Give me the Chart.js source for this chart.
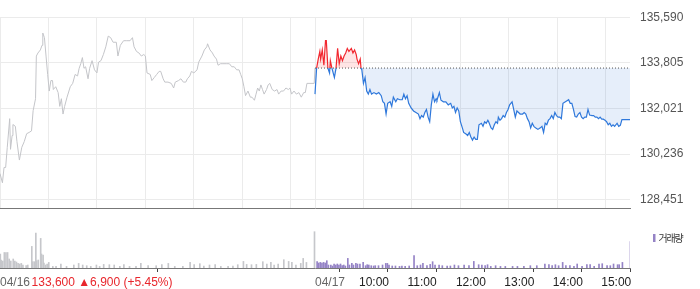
<!DOCTYPE html>
<html>
<head>
<meta charset="utf-8">
<script src="https://cdn.jsdelivr.net/npm/chart.js@4.4.1/dist/chart.umd.min.js"></script>
<style>
  html, body { margin: 0; padding: 0; background: #fff; }
  #wrap { position: relative; width: 700px; height: 289px; overflow: hidden; }
  canvas { position: absolute; left: 0; display: block; }
</style>
</head>
<body>
<div id="wrap">
  <canvas id="price" width="700" height="226" style="top:0"></canvas>
  <canvas id="vol" width="700" height="63" style="top:226px"></canvas>
</div>
<script>
// ---------- DATA ----------
// minutes counted from 04/16 09:00 (each session 09:00-15:30 = 390 min)
const dayClose = 133600;        // 04/16 close (baseline for 04/17)
const dayChange = 6900;
const dayChangePct = 5.45;

const yTickValues = [135590, 133805, 132021, 130236, 128451];
const gridMinutes = [0, 60, 120, 180, 240, 300, 360, 390, 450, 510, 570, 630, 690, 750];
const xTickMinutes = [0, 390, 450, 510, 570, 630, 690, 750];
const xTickLabels = ['04/16', '04/17', '10:00', '11:00', '12:00', '13:00', '14:00', '15:00'];

const day1Minutes = [0,3,5,7,9,12,13,15,16,19,21,24,27,30,33,36,39,41,44,45,47,50,52,53,55,57,59,61,63,65,66,69,72,74,76,78,80,83,87,90,93,96,98,100,102,104,106,109,111,114,117,120,122,125,128,131,134,137,140,144,146,149,153,157,161,164,166,169,172,175,178,180,182,186,188,191,194,197,199,202,204,208,212,215,217,221,224,227,230,232,235,237,240,244,246,250,253,256,257,260,263,265,268,270,273,276,280,284,287,290,293,296,298,300,302,304,307,310,312,315,317,319,321,323,325,327,330,332,334,337,340,343,345,348,351,354,357,359,361,364,367,370,373,376,378,380,389,390];
const day1Prices = [129470,129110,129710,129710,130500,131620,130420,130960,131390,131320,130720,130000,130500,130720,131030,131080,131140,131930,132400,134070,134190,134310,134490,134970,134790,134070,133350,132700,133110,133110,132760,132870,132640,132100,132400,131800,132100,132460,132870,133000,133350,133290,133590,133770,134010,133590,133650,133180,133590,133890,133530,133410,133830,133890,134130,134430,134850,134790,134610,134610,134070,134490,134670,134670,134670,134790,134430,134250,134190,134070,134130,134070,133410,133350,133110,133230,133350,133470,133470,133180,133050,133050,133000,132820,133050,133110,133180,133050,133050,133180,133290,133470,133410,133530,133830,134070,134310,134430,134550,134310,134190,134070,133950,133710,133770,133770,133770,133770,133650,133650,133530,133530,133350,133180,132870,132520,132700,132460,132460,132340,132580,132820,132700,132940,132760,132580,132760,132940,133000,132760,132700,132760,132580,132700,132700,132820,132760,132820,132580,132700,132580,132640,132460,132640,132640,133000,133000,133600];

const day2Minutes = [390,392,394,396,397,399,401,403,404,406,408,409,411,414,416,418,420,422,424,426,428,430,432,435,437,439,441,442,444,446,447,448,450,452,454,456,458,460,463,466,469,472,474,476,478,480,483,485,487,490,492,495,498,500,502,504,506,509,512,515,518,520,522,524,526,528,530,532,534,536,538,540,541,544,546,549,552,555,558,560,562,564,566,568,570,573,574,577,579,581,583,585,587,589,591,593,596,598,600,602,604,605,608,610,612,614,616,617,619,621,623,625,627,629,631,634,636,638,640,642,644,647,649,651,653,655,657,659,661,663,666,669,671,673,675,677,679,681,683,685,687,689,691,693,695,697,700,702,704,706,708,710,712,714,716,718,720,722,724,726,728,730,733,735,737,739,741,743,745,747,749,751,753,755,757,759,761,764,766,768,770,774,780];
const day2Prices = [132580,133600,133950,134250,133950,134310,133710,134670,134670,133590,133410,133890,133590,133230,133590,134370,133770,134070,133890,134070,134190,134370,134250,134370,134190,134310,134130,133950,133770,133950,133590,133530,133000,133230,132700,132580,132760,132580,132640,132580,132640,132520,132280,132220,131800,132220,132280,132100,132460,132280,132400,132360,132360,132580,132400,132520,132220,132040,131920,131860,131800,131620,131740,131680,131860,131980,131680,131500,132160,132580,132280,132400,132340,132640,132340,132280,132280,132160,132220,132040,132100,131860,132040,131920,131500,131200,131080,131020,130960,131080,130900,130780,130900,130810,130810,131380,131440,131320,131500,131440,131560,131500,131260,131200,131380,131500,131440,131680,131560,131620,131740,131680,131860,131980,132160,132280,131980,131680,131920,131860,131800,131800,131860,131800,131620,131500,131260,131440,131320,131260,131200,131260,131320,131080,131440,131380,131560,131620,131740,131620,131860,131740,131680,131680,131620,132220,132280,132320,132360,132220,132220,131980,131700,131680,131800,131860,131680,131620,131680,131680,131980,131760,131740,131740,131680,131680,131620,131680,131600,131600,131560,131500,131380,131440,131320,131380,131320,131440,131320,131360,131580,131580,131580];

const vol1Minutes = [0,1,2,3,4,6,8,10,12,14,17,19,21,23,25,27,29,33,35,40,41,43,45,46,48,51,52,54,55,57,59,61,66,70,76,83,92,98,103,108,113,120,124,129,136,142,149,154,161,169,175,184,194,201,209,217,227,236,241,248,253,260,267,274,283,289,295,302,306,312,318,326,331,336,340,345,352,358,362,367,373,376,380,390];
const vol1Values = [9000,14000,8000,6000,7000,15500,15500,15500,9000,7000,9000,7000,6000,4700,4000,4600,3000,2300,3000,21600,6300,6300,35000,7300,8000,29600,14000,13000,5000,3000,4000,5600,1600,1600,4000,1600,3000,4600,3000,2300,1600,3000,1600,3600,3300,3000,1600,3300,1600,1600,4600,2300,2300,3300,4600,1600,1600,5600,3300,4300,2000,3000,3300,1600,1600,2000,3300,6600,3600,3300,3600,6300,4000,5600,3000,4000,8300,6600,5600,3000,4600,9600,5600,36300];

const vol2Minutes = [392,394,396,398,400,402,404,406,409,411,413,415,417,419,421,423,425,427,430,432,435,437,440,442,445,449,452,454,456,459,462,464,468,473,477,479,481,485,489,494,497,501,506,512,516,520,523,528,532,535,538,543,547,553,557,562,567,574,580,586,592,596,600,603,607,613,619,625,634,640,648,656,664,674,679,683,687,691,696,700,705,710,714,720,726,730,735,741,745,751,755,759,764,766,770,780];
const vol2Values = [6300,5000,5600,5000,5600,5000,7300,3000,3000,2000,4000,3000,4000,3000,4000,2300,3000,2000,9600,3000,4600,3000,4600,4000,4000,5600,2300,3300,3000,2300,2000,2300,2300,3000,4600,4600,3000,2000,2000,1600,2000,1600,2000,12300,2300,3000,4600,2300,3600,6300,3000,3000,2300,2000,2000,3000,2300,3000,2300,6600,3300,3000,2300,3300,1600,2300,1600,1600,1600,1600,1600,2300,2300,4000,3300,2300,3300,2300,5600,2300,2300,1600,4000,1600,3300,3300,1600,4000,4300,2300,2300,4000,3300,3300,5600,26300];

// ---------- HELPERS ----------
const pts = (xs, ys) => xs.map((x, i) => ({ x, y: ys[i] }));
const FONT = '"Liberation Sans", Arial, sans-serif';
const RED = '#f2272f', BLUE = '#2f78db';

function splitColor(ctx) {
  const chart = ctx.chart;
  const area = chart.chartArea;
  if (!area) return BLUE;
  const yb = chart.scales.y.getPixelForValue(dayClose);
  const f = Math.min(1, Math.max(0, (yb - area.top) / (area.bottom - area.top)));
  const g = chart.ctx.createLinearGradient(0, area.top, 0, area.bottom);
  g.addColorStop(0, RED); g.addColorStop(f, RED);
  g.addColorStop(f, BLUE); g.addColorStop(1, BLUE);
  return g;
}

// ---------- PRICE CHART ----------
new Chart(document.getElementById('price'), {
  type: 'line',
  data: {
    datasets: [
      { data: [{x: 390, y: dayClose}, {x: 780, y: dayClose}], borderColor: '#555', borderWidth: 1,
        borderDash: [1, 2], pointRadius: 0, fill: false, order: 0 },
      { data: pts(day2Minutes, day2Prices), borderColor: splitColor, borderWidth: 1.2, pointRadius: 0,
        tension: 0, order: 1,
        fill: { target: { value: dayClose }, above: 'rgba(255,70,70,0.14)', below: 'rgba(60,120,220,0.13)' } },
      { data: pts(day1Minutes, day1Prices), borderColor: '#c4c5c9', borderWidth: 1, pointRadius: 0,
        tension: 0, fill: false, order: 2 }
    ]
  },
  options: {
    responsive: false, animation: false, events: [],
    layout: { padding: { top: 16, left: 0, right: 0, bottom: 0 } },
    plugins: { legend: { display: false }, tooltip: { enabled: false } },
    scales: {
      x: {
        type: 'linear', min: 0, max: 780,
        afterBuildTicks: s => { s.ticks = gridMinutes.map(v => ({ value: v })); },
        afterFit: s => { s.height = 1; },
        ticks: { display: false },
        grid: { color: '#ebebeb', drawTicks: false },
        border: { display: true, color: '#777', width: 1 }
      },
      y: {
        position: 'right',
        min: 128451 - (135590 - 128451) / 199 * 10,
        max: 135590,
        afterBuildTicks: s => { s.ticks = yTickValues.map(v => ({ value: v })); },
        afterFit: s => { s.width = 70; },
        ticks: { padding: 10, color: '#555', font: { size: 12, family: FONT },
                 callback: v => v.toLocaleString('en-US') },
        grid: { color: '#ebebeb', drawTicks: false },
        border: { display: false }
      }
    }
  }
});

// ---------- VOLUME CHART ----------
const labelPlugin = {
  id: 'bottomLabels',
  afterDraw(chart) {
    const ctx = chart.ctx, xs = chart.scales.x, area = chart.chartArea;
    ctx.save();
    ctx.font = '12px ' + FONT;
    ctx.textBaseline = 'middle';
    ctx.textAlign = 'left';
    const ty = area.bottom + 15;
    xTickMinutes.forEach((m, i) => {
      const px = xs.getPixelForValue(m);
      const lab = xTickLabels[i];
      const isDate = lab.indexOf('/') >= 0;
      ctx.fillStyle = isDate ? '#666' : '#222';
      const x0 = isDate ? px : px - 4.5;
      ctx.fillText(lab, x0, ty);
      if (i === 0) {
        ctx.fillStyle = '#e8262c';
        const txt = dayClose.toLocaleString('en-US') + ' \u25B2' + dayChange.toLocaleString('en-US') +
                    ' (+' + dayChangePct.toFixed(2) + '%)';
        ctx.fillText(txt, x0 + ctx.measureText(lab).width + 1.5, ty);
      }
    });
    // legend
    ctx.fillStyle = '#9583c6';
    ctx.fillRect(area.right + 23, 8, 2.5, 8);
    ctx.fillStyle = '#333';
    ctx.font = '10px "Noto Sans CJK KR", sans-serif';
    try { ctx.letterSpacing = '-1.2px'; } catch (e) {}
    ctx.fillText('거래량', area.right + 28.5, 12);
    ctx.restore();
  }
};

new Chart(document.getElementById('vol'), {
  type: 'bar',
  data: {
    datasets: [
      { data: pts(vol1Minutes, vol1Values), backgroundColor: '#c6c7cb', barThickness: 1, borderWidth: 0 },
      { data: pts(vol2Minutes, vol2Values), backgroundColor: '#9583c6', barThickness: 1, borderWidth: 0 }
    ]
  },
  options: {
    responsive: false, animation: false, events: [],
    layout: { padding: { top: 0, left: 0, right: 70, bottom: 0 } },
    plugins: { legend: { display: false }, tooltip: { enabled: false } },
    scales: {
      x: {
        type: 'linear', min: 0, max: 780, offset: false,
        afterBuildTicks: s => { s.ticks = xTickMinutes.map(v => ({ value: v })); },
        afterFit: s => { s.height = 21; },
        ticks: { display: false },
        grid: { drawOnChartArea: false, drawTicks: true, tickLength: 4, color: '#444' },
        border: { display: true, color: '#777', width: 1 }
      },
      y: { display: false, min: 0, max: 42000 }
    }
  },
  plugins: [labelPlugin]
});
</script>
</body>
</html>
